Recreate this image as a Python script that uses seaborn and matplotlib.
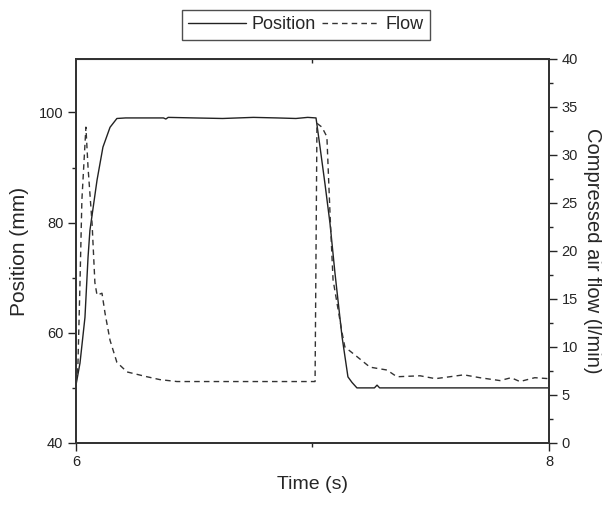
import matplotlib
matplotlib.use('Agg')
import matplotlib.pyplot as plt
from matplotlib.ticker import MultipleLocator
import pandas as pd
import seaborn as sns

# position trace (mm)
pos_time = [6.000, 6.017, 6.038, 6.051, 6.059, 6.089, 6.114, 6.144, 6.173,
            6.21, 6.30, 6.37, 6.38, 6.39, 6.50, 6.62, 6.75, 6.85, 6.93, 6.98,
            7.015, 7.032, 7.053, 7.074, 7.095, 7.125, 7.150, 7.167, 7.188,
            7.262, 7.273, 7.284, 8.000]
position = [50.5, 54.5, 62.8, 73.7, 78.6, 87.7, 93.7, 97.3, 98.9,
            99.0, 99.0, 99.0, 98.8, 99.1, 99.0, 98.9, 99.1, 99.0, 98.9, 99.1,
            99.0, 93.7, 87.0, 79.9, 70.9, 59.3, 52.0, 51.0, 50.0,
            50.0, 50.5, 50.0, 50.0]

# compressed air flow trace (l/min)
flow_time = [6.000, 6.008, 6.017, 6.025, 6.042, 6.051, 6.068, 6.080, 6.089, 6.110,
             6.123, 6.144, 6.173, 6.216, 6.300, 6.355, 6.427, 6.736, 7.002,
             7.011, 7.019, 7.040, 7.061, 7.074, 7.087, 7.125, 7.137, 7.188,
             7.243, 7.315, 7.357, 7.455, 7.52, 7.581, 7.64, 7.708, 7.793, 7.84,
             7.877, 7.94, 8.000]
flow = [6.2, 7.9, 16.7, 25.3, 32.9, 28.7, 22.9, 16.7, 15.4, 15.6,
        13.5, 10.7, 8.4, 7.4, 6.9, 6.6, 6.4, 6.4, 6.4,
        6.4, 33.3, 32.9, 31.9, 24.0, 17.0, 11.5, 10.0, 9.0,
        7.9, 7.6, 6.9, 7.0, 6.7, 6.9, 7.1, 6.8, 6.5, 6.8,
        6.4, 6.8, 6.7]

df_pos = pd.DataFrame({'time': pos_time, 'position': position})
df_flow = pd.DataFrame({'time': flow_time, 'flow': flow})

sns.set_style('ticks')
plt.rcParams['font.family'] = ['Liberation Sans', 'DejaVu Sans']

fig = plt.figure(figsize=(6.02, 5.05), dpi=100)
ax = fig.add_axes([0.1262, 0.1228, 0.7857, 0.7604])
ax2 = ax.twinx()

sns.lineplot(data=df_pos, x='time', y='position', ax=ax, color='#222222',
             linewidth=1.0, label='Position', legend=False)
sns.lineplot(data=df_flow, x='time', y='flow', ax=ax2, color='#333333',
             linewidth=1.0, linestyle=(0, (4, 3)), label='Flow', legend=False)

ax.set_xlim(6, 8)
ax.set_ylim(40, 109.7)
ax2.set_ylim(0, 40)

ax.xaxis.set_major_locator(MultipleLocator(2))
ax.xaxis.set_minor_locator(MultipleLocator(1))
ax.yaxis.set_major_locator(MultipleLocator(20))
ax.yaxis.set_minor_locator(MultipleLocator(10))
ax2.yaxis.set_major_locator(MultipleLocator(5))
ax2.yaxis.set_minor_locator(MultipleLocator(2.5))

ax.tick_params(axis='both', which='major', direction='out', length=6, width=1,
               labelsize=10.5, colors='#222222', pad=3)
ax.tick_params(axis='y', which='minor', direction='out', length=3, width=1)
ax.tick_params(axis='x', which='minor', direction='out', length=3, width=1)
ax2.tick_params(axis='y', which='major', direction='out', length=6, width=1,
                labelsize=10.5, pad=3)
ax2.tick_params(axis='y', which='minor', direction='out', length=3, width=1)

# top edge: only the minor tick at 7, pointing into the plot
top = ax.secondary_xaxis('top')
top.set_xticks([7])
top.set_xticklabels([])
top.tick_params(direction='in', length=3, width=1)

for a in (ax, ax2):
    for s in a.spines.values():
        s.set_linewidth(1.3)
        s.set_color('#333333')

ax.set_xlabel('Time (s)', fontsize=14, labelpad=5)
ax.set_ylabel('Position (mm)', fontsize=15, labelpad=7)
ax2.set_ylabel('Compressed air flow (l/min)', fontsize=14.5, rotation=270,
               va='bottom', labelpad=4)

h1, l1 = ax.get_legend_handles_labels()
h2, l2 = ax2.get_legend_handles_labels()
leg = fig.legend(h1 + h2, l1 + l2, loc='center', bbox_to_anchor=(0.508, 0.951),
                 ncol=2, frameon=True, fancybox=False, fontsize=13,
                 handlelength=3.2, handletextpad=0.3, columnspacing=0.4,
                 borderpad=0.35, edgecolor='#222222')
leg.get_frame().set_linewidth(1.0)

fig.savefig('out.png', dpi=100)
